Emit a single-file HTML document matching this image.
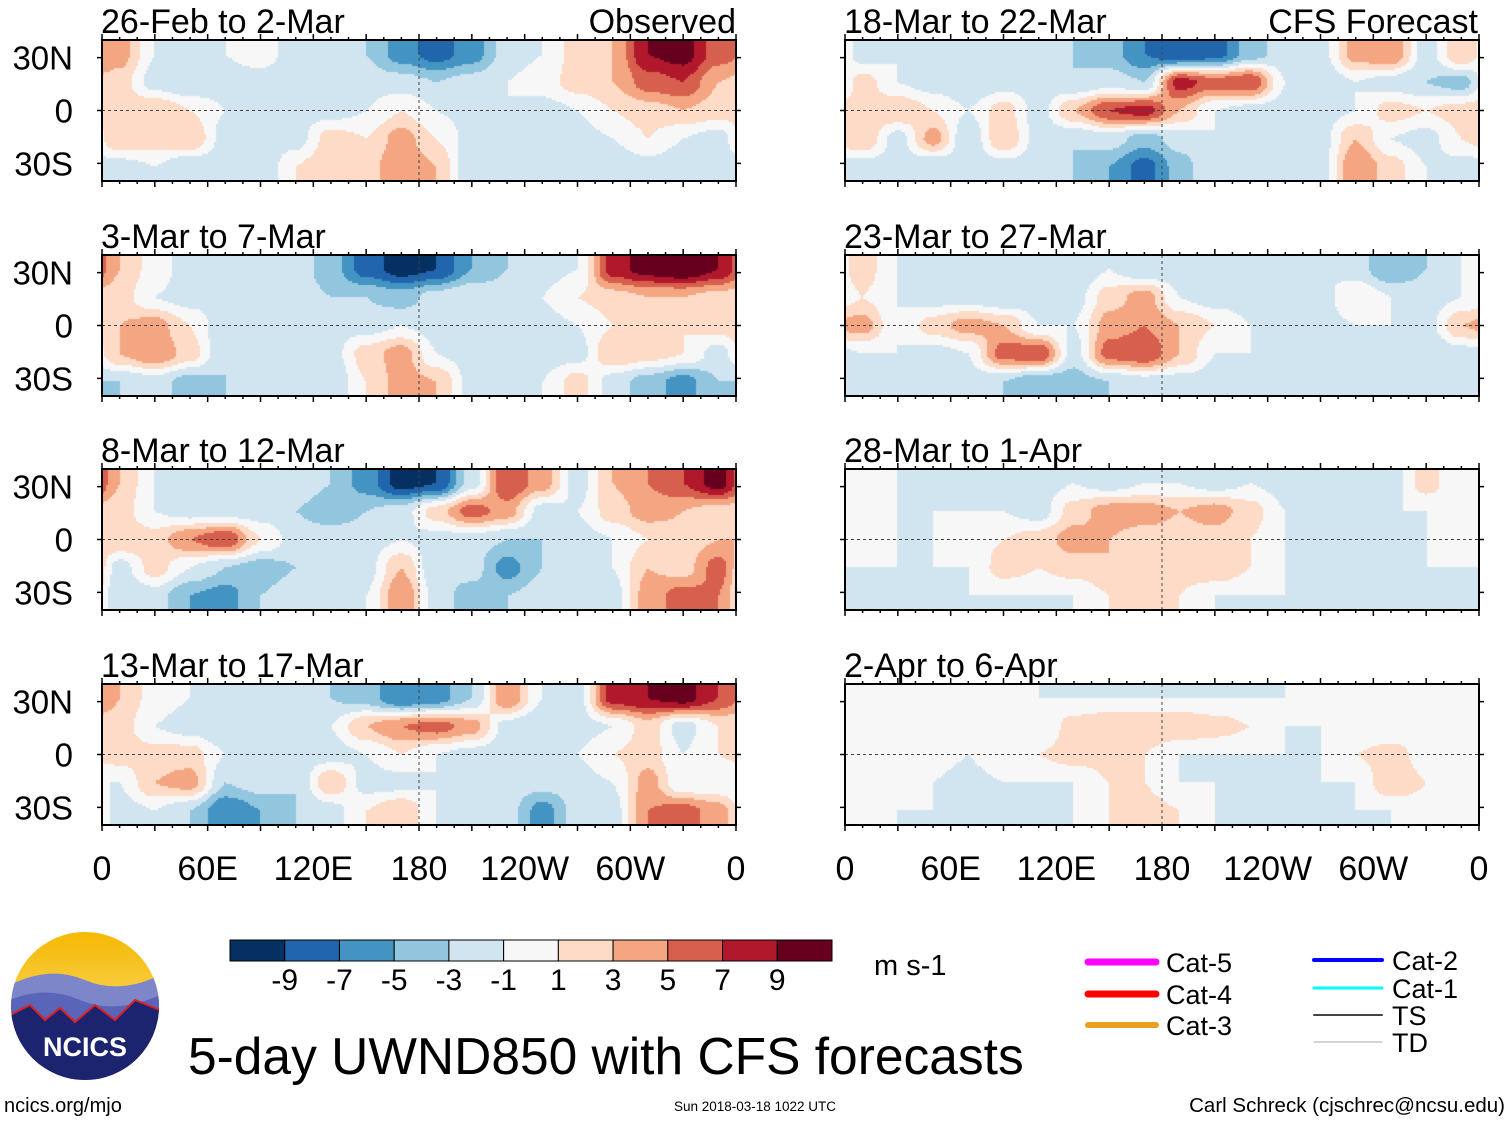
<!DOCTYPE html>
<html><head><meta charset="utf-8">
<style>
body{margin:0;background:#fff;width:1510px;height:1121px;overflow:hidden;position:relative;font-family:"Liberation Sans",sans-serif}
canvas{position:absolute}
</style></head><body>
<svg id="ov" width="1510" height="1121" style="position:absolute;left:0;top:0"></svg>
<script>
const panelTitles=["26-Feb to 2-Mar","3-Mar to 7-Mar","8-Mar to 12-Mar","13-Mar to 17-Mar","18-Mar to 22-Mar","23-Mar to 27-Mar","28-Mar to 1-Apr","2-Apr to 6-Apr"];
const lonCenters=[10,30,50,70,90,110,130,150,170,190,210,230,250,270,290,310,330,350];
const latCenters=[32,16,0,-16,-32];
const levels=[-9,-7,-5,-3,-1,1,3,5,7,9];
const levelColors=["#053061","#2166ac","#4393c3","#92c5de","#d1e5f0","#f7f7f7","#fddbc7","#f4a582","#d6604d","#b2182b","#67001f"];
const p1=[[4,-1,-2,-1,0,-2,-2,-3,-6,-8,-6,-2,-1,2,3,9,10,6],[2,-2,-3,-2,-2,-3,-3,-2,-2,-3,-2,-1,0,2,3,6,7,3],[2,3,1,-1,-2,-2,-2,-1,1,-1,-2,-1,-2,-1,1,2,3,2],[3,2,3,-2,-3,-2,2,1,4,1,-2,-3,-2,-2,-1,1,-1,-2],[-2,-1,-3,-2,-3,1,3,2,5,3,-3,-2,-2,-1,-3,-2,-3,-2]];
const p2=[[3,0,-2,-1,-1,-2,-4,-8,-10,-9,-5,-3,-2,-1,8,10,11,9],[2,-1,-2,-2,-1,-2,-3,-3,-4,-2,-1,-2,-1,1,2,3,3,2],[3,4,1,-3,-2,-1,-2,-2,-1,-2,-2,-1,-2,-1,1,2,1,2],[3,5,2,-3,-2,-3,-2,2,4,-1,-2,-2,-2,-2,3,2,1,-2],[-3,-2,-4,-3,-2,-2,-3,1,4,3,-2,-3,-1,2,-2,-4,-6,-3]];
const p3=[[3,-1,-2,-2,-3,-2,-3,-6,-10,-9,-2,7,4,-2,3,5,7,10],[2,-1,-2,-2,-2,-3,-4,-3,-2,2,6,4,-2,-1,2,4,3,2],[3,2,5,7,1,-2,-2,-2,-1,-2,-2,-3,-3,-2,-1,1,2,3],[-2,2,-1,-3,-4,-3,-3,-2,3,-3,-2,-6,-3,-3,-1,3,2,6],[-3,-2,-5,-6,-3,-2,-2,-1,5,-2,-4,-3,-2,-2,-2,4,6,5]];
const p4=[[3,0,-1,-1,-2,-1,-3,-4,-7,-6,-3,5,-1,-2,8,9,10,7],[2,-1,-2,-3,-2,-2,-1,3,5,6,4,-2,-3,-2,-1,2,-2,1],[2,2,2,-1,-2,-2,-2,-1,1,-1,-2,-2,-2,-1,1,2,-1,1],[-1,3,4,-3,-2,-3,3,-2,-2,-1,-2,-2,-2,-2,-1,4,-1,-1],[-2,-1,-3,-7,-5,-3,-2,1,3,-1,-2,-2,-6,-2,-2,5,6,4]];
const p5=[[-2,-1,-3,-1,-2,-2,-3,-4,-7,-9,-8,-4,-2,-2,4,5,-2,3],[2,-1,-2,-3,-2,-2,-3,-2,-3,8,6,7,-1,-3,-1,-2,-3,-4],[2,3,1,-1,2,-2,3,7,8,3,-1,-2,-2,-2,-1,2,1,2],[3,-2,4,-3,3,-2,-3,-2,-4,-2,-1,-2,-1,-2,3,-1,-2,1],[-2,-2,-3,-2,-2,-2,-3,-5,-8,-4,-1,-2,-3,-2,5,2,-1,-2]];
const p6=[[2,-1,-2,-1,-1,-2,-3,-1,-3,-2,-1,-2,-2,-1,-2,-5,-3,-1],[1,-1,-2,-2,-3,-2,-2,2,4,-1,-2,-2,-2,-2,1,-1,-2,-1],[4,-1,2,4,3,-1,-1,4,5,3,1,-1,-2,-2,-1,-1,-2,3],[-1,-1,-2,-1,6,7,-2,6,7,3,-1,-1,-1,-3,-2,-2,-3,-2],[-2,-2,-3,-2,-3,-5,-4,-3,-2,-2,-2,-3,-2,-2,-1,-2,-2,-1]];
const p7=[[1,-1,-1,-1,-1,-2,-1,-2,-1,-1,-2,-1,-2,-1,-1,-2,2,-1],[0,-1,-1,-1,-1,-2,2,4,4,3,4,2,-1,-1,-1,-1,-1,0],[1,-1,-1,0,1,2,4,3,2,2,2,1,-1,-1,-1,-1,-1,1],[-1,-1,-1,-1,2,1,2,3,3,2,3,1,-1,-1,-1,-1,-1,-1],[-1,-1,-2,-1,-1,-1,-1,1,2,1,-1,-1,-1,-1,-1,-1,-1,-1]];
const p8=[[0,0,-1,0,0,-1,-1,-1,-1,-1,-1,-1,-1,0,0,-1,0,0],[0,0,-1,-1,-1,-1,2,3,3,3,2,1,-1,-1,-1,-1,0,0],[0,-1,0,-1,1,1,2,2,1,-1,-1,-1,-1,-1,1,2,0,0],[0,0,-1,-2,-1,-1,-1,1,1,-1,-1,-1,-1,-1,-1,3,1,0],[0,-1,-1,-2,-1,-1,-1,1,2,1,-1,-1,-1,-1,-1,-1,0,0]];
const fields=[p1,p2,p3,p4,p5,p6,p7,p8];
const xTicks=["0","60E","120E","180","120W","60W","0"];
const yTicks=["30N","0","30S"];
const cbLabels=["-9","-7","-5","-3","-1","1","3","5","7","9"];

const W=634,H=141,LEFTX=[102,845],TOPS=[40,255,469,684];
const lonX=(x0,lon)=>x0+lon*W/360;
const latY=(y0,lat)=>y0+(40-lat)*H/80;
function colorFor(v){let i=0;while(i<levels.length&&v>levels[i])i++;return levelColors[i];}
function sample(f,lon,lat){
  let fx=(lon-10)/20; let i0=Math.floor(fx); let tx=fx-i0;
  const n=lonCenters.length; const a=((i0%n)+n)%n, b=(a+1)%n;
  let fy=(32-lat)/16; fy=Math.max(0,Math.min(4,fy)); let j0=Math.min(3,Math.floor(fy)); let ty=fy-j0;
  tx=tx*tx*(3-2*tx); ty=ty*ty*(3-2*ty);
  const v00=f[j0][a],v01=f[j0][b],v10=f[j0+1][a],v11=f[j0+1][b];
  return (v00*(1-tx)+v01*tx)*(1-ty)+(v10*(1-tx)+v11*tx)*ty;
}
const NS="http://www.w3.org/2000/svg";
const ov=document.getElementById('ov');
function sv(tag,attrs,parent){const e=document.createElementNS(NS,tag);for(const k in attrs)e.setAttribute(k,attrs[k]);(parent||ov).appendChild(e);return e;}
function txt(s,x,y,size,name,anchor){const e=sv('text',{x:x,y:y,'font-size':size,'font-family':'Liberation Sans, sans-serif','text-anchor':anchor||'start'});e.textContent=s;return e;}

fields.forEach((f,p)=>{
  const col=p<4?0:1,row=p%4,x0=LEFTX[col],y0=TOPS[row];
  const c=document.createElement('canvas');c.width=W;c.height=H;
  c.style.left=x0+'px';c.style.top=y0+'px';
  
  
  document.body.insertBefore(c,ov);
  const ctx=c.getContext('2d');
  for(let py=0;py<H;py+=2)for(let px=0;px<W;px+=2){
    const lon=(px+1)*360/W,lat=40-(py+1)*80/H;
    ctx.fillStyle=colorFor(sample(f,lon,lat));ctx.fillRect(px,py,2,2);
  }
  const g=sv('g',{});
  
  
  sv('line',{x1:x0,x2:x0+W,y1:latY(y0,0),y2:latY(y0,0),stroke:'#444','stroke-dasharray':'3,3','stroke-width':1},g);
  sv('line',{x1:lonX(x0,180),x2:lonX(x0,180),y1:y0,y2:y0+H,stroke:'#444','stroke-dasharray':'3,3','stroke-width':1},g);
  sv('rect',{x:x0,y:y0,width:W,height:H,fill:'none',stroke:'#000','stroke-width':2},g);
  for(let lon=0;lon<=360;lon+=10){const x=lonX(x0,lon),L=lon%30==0?6:3;
    sv('line',{x1:x,x2:x,y1:y0-L,y2:y0,stroke:'#000','stroke-width':1.5},g);
    sv('line',{x1:x,x2:x,y1:y0+H,y2:y0+H+L,stroke:'#000','stroke-width':1.5},g);}
  [30,0,-30].forEach(lat=>{const y=latY(y0,lat);
    sv('line',{x1:x0-5,x2:x0,y1:y,y2:y,stroke:'#000','stroke-width':1.5},g);
    sv('line',{x1:x0+W,x2:x0+W+5,y1:y,y2:y,stroke:'#000','stroke-width':1.5},g);});
  txt(panelTitles[p],x0-1,y0-7,34,'panel-title-'+(p+1));
  if(col==0){yTicks.forEach((t,i)=>txt(t,73,latY(y0,[30,0,-30][i])+12,33,'y-tick-label','end'));}
});
txt('Observed',736,TOPS[0]-7,34,'observed-label','end');
txt('CFS Forecast',1478,TOPS[0]-7,34,'cfs-forecast-label','end');
LEFTX.forEach(x0=>xTicks.forEach((t,i)=>txt(t,lonX(x0,i*60),880,34,'x-tick-label','middle')));
const cbx=230,cby=940,cbw=602/11;
levelColors.forEach((c,i)=>{const r=sv('rect',{x:cbx+i*cbw,y:cby,width:cbw,height:21,fill:c,stroke:'#000','stroke-width':1});
  });
cbLabels.forEach((t,i)=>txt(t,cbx+(i+1)*cbw,990,30,'colorbar-label','middle'));
txt('m s-1',874,975,29,'units-label');
const leg=[["Cat-5","#ff00ff",7,1088,962],["Cat-4","#ff0000",7,1088,994],["Cat-3","#e8a020",6,1088,1025],["Cat-2","#0000ff",4,1314,960],["Cat-1","#00ffff",3,1314,988],["TS","#444",2,1314,1015],["TD","#aaa",1,1314,1042]];
leg.forEach(l=>{const ln=sv('line',{x1:l[3],x2:l[3]+68,y1:l[4],y2:l[4],stroke:l[1],'stroke-width':l[2],'stroke-linecap':'round'});
  
  txt(l[0],l[3]+78,l[4]+10,27,'legend-label');});
txt('5-day UWND850 with CFS forecasts',188,1074,51.5,'main-title');
txt('ncics.org/mjo',4,1112,20,'site-url');
txt('Sun 2018-03-18 1022 UTC',755,1111,13.5,'timestamp','middle');
txt('Carl Schreck (cjschrec@ncsu.edu)',1505,1112,20.5,'author','end');
const lg=sv('g',{});
sv('defs',{},lg).innerHTML='<clipPath id="lc"><circle cx="85" cy="1006" r="74"/></clipPath><linearGradient id="sky" x1="0" y1="0" x2="0" y2="1"><stop offset="0" stop-color="#f5b800"/><stop offset="1" stop-color="#fde9a0"/></linearGradient>';
const cg=sv('g',{'clip-path':'url(#lc)'},lg);
sv('rect',{x:10,y:930,width:150,height:152,fill:'url(#sky)'},cg);
sv('path',{d:'M10 985 Q50 965 85 980 T160 975 L160 1082 L10 1082Z',fill:'#7c86c8'},cg);
sv('path',{d:'M10 1000 Q45 985 80 1000 T160 995 L160 1082 L10 1082Z',fill:'#5a64b8'},cg);
sv('path',{d:'M10 1015 L30 1005 L45 1020 L60 1008 L75 1022 L95 1005 L115 1020 L135 1000 L160 1010 L160 1082 L10 1082Z',fill:'#1c2470',stroke:'#e02020','stroke-width':2},cg);
const lt=txt('NCICS',85,1056,27,'logo-text','middle');lt.setAttribute('fill','#fff');lt.setAttribute('font-weight','bold');
</script>
</body></html>
